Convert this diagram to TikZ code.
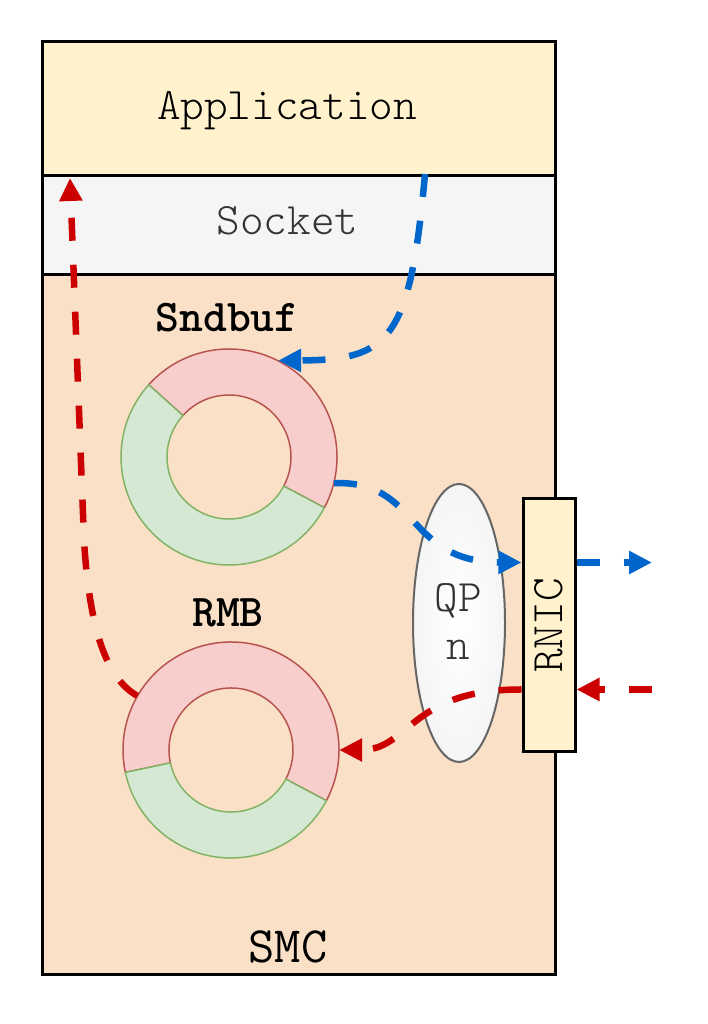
\documentclass[tikz,border=0pt]{standalone}
\usepackage{fontspec}
\usetikzlibrary{shapes.geometric, arrows.meta, calc}
\definecolor{appfill}{HTML}{FFF2CC}
\definecolor{sockfill}{HTML}{F5F5F5}
\definecolor{smcfill}{HTML}{FAE0C6}
\definecolor{redfill}{HTML}{F8CECC}
\definecolor{redline}{HTML}{B85450}
\definecolor{greenfill}{HTML}{D5E8D4}
\definecolor{greenline}{HTML}{82B366}
\definecolor{flowblue}{HTML}{0066CC}
\definecolor{flowred}{HTML}{CC0000}
\definecolor{qpline}{HTML}{666666}
\definecolor{graytext}{HTML}{333333}
\begin{document}
\begin{tikzpicture}[x=1pt,y=1pt,
  layer/.style={draw=black, line width=3pt, minimum width=513pt, inner sep=0pt},
  lbl/.style={font=\ttfamily\fontseries{l}\fontsize{45}{48}\selectfont, inner sep=0pt},
  blbl/.style={font=\ttfamily\bfseries\fontsize{45.5}{48}\selectfont, inner sep=0pt},
  ringnode/.style={circle, minimum size=216pt, inner sep=0pt},
  redseg/.style={draw=redline, fill=redfill, line width=1.5pt},
  greenseg/.style={draw=greenline, fill=greenfill, line width=1.5pt},
  flow/.style={line width=6.5pt, dash pattern=on 23pt off 24pt, -{Triangle[length=23pt,width=22pt]}},
  blueflow/.style={flow, draw=flowblue},
  redflow/.style={flow, draw=flowred}
]
\useasboundingbox (0,0) rectangle (708,1024);
\fill[white] (0,0) rectangle (708,1024);

% layers
\node[layer, fill=smcfill, minimum height=700pt] (smc) at (298.5,399) {};
\node[layer, fill=sockfill, minimum height=99pt] (sock) at (298.5,798.5) {};
\node[layer, fill=appfill, minimum height=134pt] (app) at (298.5,915) {};

\node[lbl, anchor=base] (apptxt) at (287,904) {Application};
\node[lbl, anchor=base, text=graytext] (socktxt) at (287.5,789) {Socket};
\node[font=\ttfamily\fontsize{51}{54}\selectfont, inner sep=0pt, anchor=base] (smctxt) at (288,61) {SMC};

% rings
\node[ringnode] (snd) at (229,567) {};
\node[ringnode] (rmb) at (231,274) {};
\draw[redseg] ($(snd.center)+(-28:108)$) arc[start angle=-28, end angle=138, radius=108]
  -- ($(snd.center)+(138:62)$) arc[start angle=138, end angle=-28, radius=62] -- cycle;
\draw[greenseg] ($(snd.center)+(138:108)$) arc[start angle=138, end angle=332, radius=108]
  -- ($(snd.center)+(332:62)$) arc[start angle=332, end angle=138, radius=62] -- cycle;
\draw[redseg] ($(rmb.center)+(-28:108)$) arc[start angle=-28, end angle=192, radius=108]
  -- ($(rmb.center)+(192:62)$) arc[start angle=192, end angle=-28, radius=62] -- cycle;
\draw[greenseg] ($(rmb.center)+(192:108)$) arc[start angle=192, end angle=332, radius=108]
  -- ($(rmb.center)+(332:62)$) arc[start angle=332, end angle=192, radius=62] -- cycle;

\node[blbl, anchor=base] (sndtxt) at (227,692) {Sndbuf};
\node[blbl, anchor=base] (rmbtxt) at (228,397) {RMB};

% QP and RNIC
\node[ellipse, draw=qpline, line width=2pt, inner color=white, outer color=sockfill, minimum width=92pt, minimum height=278pt, inner sep=0pt] (qp) at (459,401) {};
\node[lbl, anchor=base, text=graytext] (qptxt) at (458,412) {QP};
\node[lbl, anchor=base, text=graytext] (ntxt) at (458,364) {n};
\node[draw=black, line width=3pt, fill=appfill, minimum width=52pt, minimum height=253pt, inner sep=0pt] (rnic) at (549,398.5) {};
\node[lbl, rotate=90] (rnictxt) at (rnic.center) {RNIC};

% endpoints
\coordinate (bstart) at (425,850);
\coordinate (bend) at (652,461.5);
\coordinate (rstart) at (652,334.5);
\coordinate (rtop) at (70,846);

% blue flows
\draw[blueflow] (bstart) .. controls (410,684) and (390,664) .. (snd.63);
\draw[blueflow] (snd.-14) .. controls (420,544) and (405,462) .. ([yshift=63pt]rnic.west);
\draw[blueflow] ([yshift=63pt]rnic.east) -- (bend);

% red flows
\draw[redflow] (rstart) -- ([yshift=-64pt]rnic.east);
\draw[redflow] ([yshift=-64pt]rnic.west) .. controls (410,335) and (410,274) .. (rmb.0);
\draw[redflow] (rmb.150) .. controls (110,344) and (90,384) .. (84,484) -- (rtop);
\end{tikzpicture}
\end{document}
